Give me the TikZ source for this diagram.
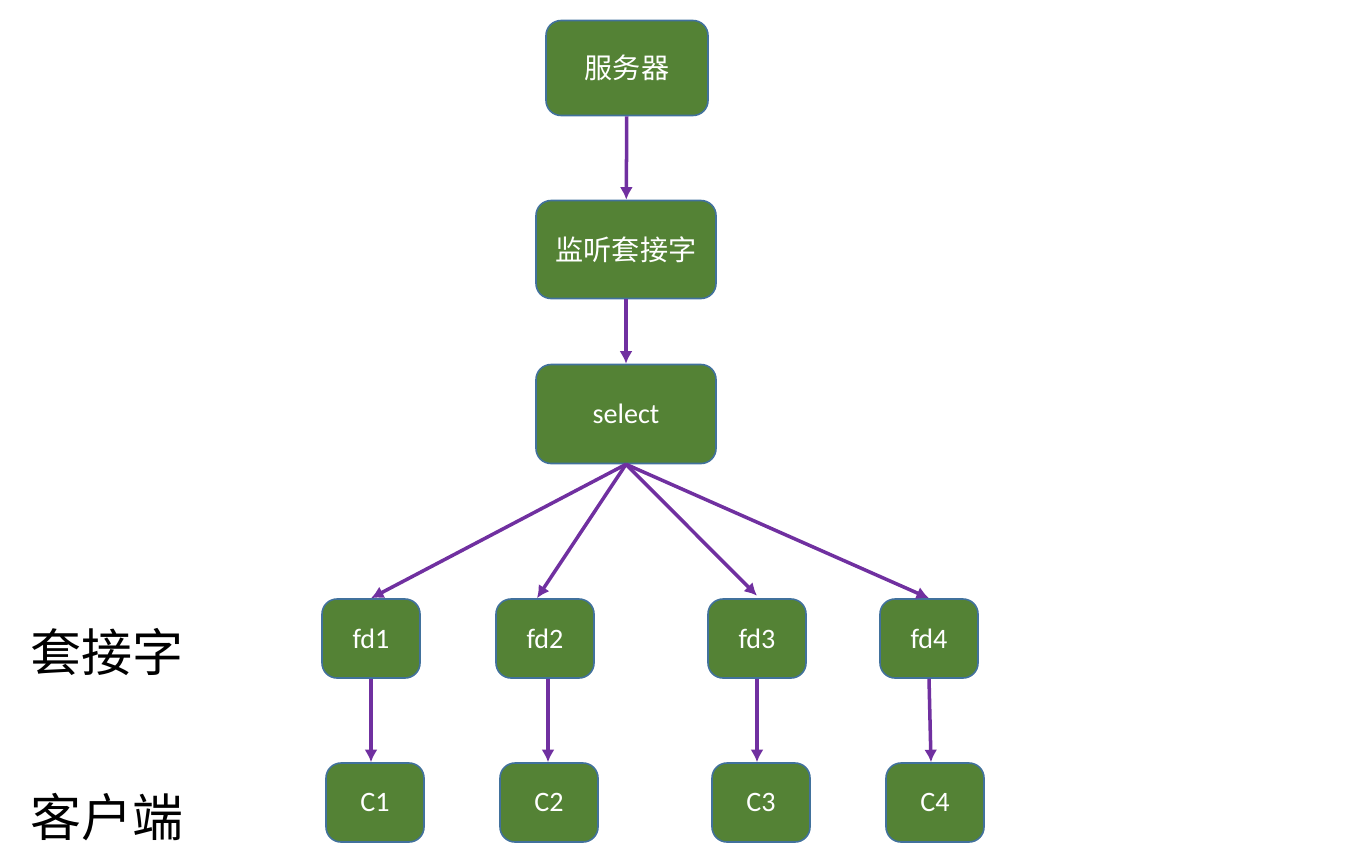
\documentclass[tikz,border=0pt]{standalone}
\usepackage{fontspec}
\usepackage{tikz}
\setmainfont{Carlito}
\newfontfamily\cjk{Noto Sans CJK SC}
\usetikzlibrary{arrows.meta}
\usetikzlibrary{positioning}
\tikzset{flow/.style = {draw=mpurple, line width=2pt, -{Latex[length=0.25cm, width=0.26cm]}}}
\tikzset{box/.style = {draw=mborder, fill=mgreen, line width=0.9pt, rounded corners=0.3cm,
                       text=white, font=\fontsize{16}{19}\selectfont}}
\tikzset{fdbox/.style = {box, minimum width=1.96cm, minimum height=1.58cm}}
\tikzset{side/.style = {font=\cjk\fontsize{29}{34}\selectfont}}
\definecolor{mgreen}{RGB}{84,130,53}
\definecolor{mborder}{RGB}{65,113,156}
\definecolor{mpurple}{RGB}{112,48,160}

\begin{document}
\begin{tikzpicture}
      \useasboundingbox (0, 0) rectangle (27.2, -17.2);
      \node [box, minimum width=3.24cm, minimum height=1.9cm] (server) at (12.54, -1.36) {\cjk 服务器};
      \node [box, minimum width=3.6cm, minimum height=1.96cm] (listen) at (12.52, -4.99) {\cjk 监听套接字};
      \node [box, minimum width=3.6cm, minimum height=1.98cm] (select) at (12.52, -8.28) {select};

      \node [fdbox] (fd1) at (7.42, -12.77) {fd1};
      \node [fdbox] (fd2) at (10.9, -12.77) {fd2};
      \node [fdbox] (fd3) at (15.14, -12.77) {fd3};
      \node [fdbox] (fd4) at (18.58, -12.77) {fd4};

      \node [fdbox] (c1) at (7.5, -16.05) {C1};
      \node [fdbox] (c2) at (10.98, -16.05) {C2};
      \node [fdbox] (c3) at (15.22, -16.05) {C3};
      \node [fdbox] (c4) at (18.7, -16.05) {C4};

      \node [side] (socklabel) at (2.14, -13.04) {套接字};
      \node [side] (clientlabel) at (2.14, -16.34) {客户端};

      \draw [flow] (server) -- (listen);
      \draw [flow] (listen) -- (select);
      \draw [flow] (select.south) -- (fd1.north);
      \draw [flow] (select.south) -- ([xshift=-0.16cm]fd2.north);
      \draw [flow] (select.south) -- ([yshift=0.05cm]fd3.north);
      \draw [flow] (select.south) -- (fd4.north);

      \draw [flow] (fd1.south) -- (fd1.south |- c1.north);
      \draw [flow] ([xshift=0.06cm]fd2.south) -- ([xshift=0.06cm]fd2.south |- c2.north);
      \draw [flow] (fd3.south) -- (fd3.south |- c3.north);
      \draw [flow] (fd4.south) -- ([xshift=0.04cm]fd4.south |- c4.north);
    \end{tikzpicture}
\end{document}
